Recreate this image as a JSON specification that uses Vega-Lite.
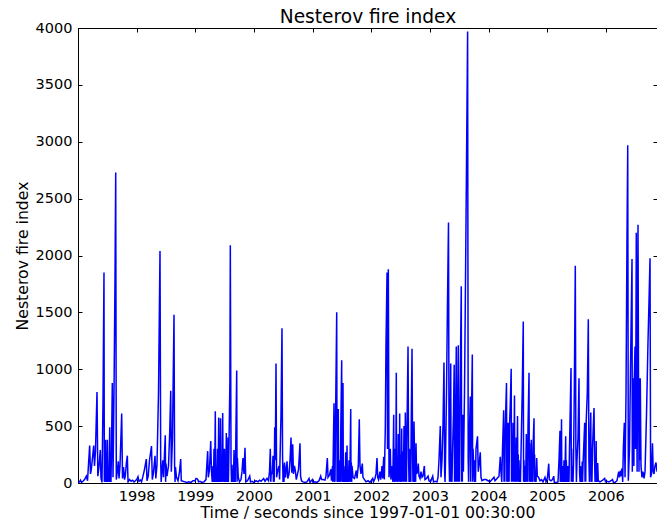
{
 "$schema": "https://vega.github.io/schema/vega-lite/v6.json",
 "width": 579, "height": 455,
 "autosize": {"type": "none"},
 "padding": {"left": 78, "top": 28, "right": 0, "bottom": 40},
 "background": "white",
 "config": {
  "font": "DejaVu Sans",
  "view": {"stroke": "black", "strokeWidth": 1},
  "axis": {"domainColor": "black", "tickColor": "black", "labelColor": "black", "titleColor": "black", "grid": false,
   "labelFont": "DejaVu Sans", "titleFont": "DejaVu Sans", "labelFontSize": 14.5, "titleFontSize": 15.7, "titleFontWeight": "normal",
   "tickSize": -4, "domainWidth": 1, "tickWidth": 1}
 },
 "data": {"values": [
{"year":1997.000,"index":0},{"year":1997.026,"index":10},{"year":1997.043,"index":25},{"year":1997.060,"index":5},{"year":1997.085,"index":15},{"year":1997.111,"index":30},{"year":1997.142,"index":60},{"year":1997.162,"index":20},{"year":1997.199,"index":330},{"year":1997.213,"index":80},{"year":1997.227,"index":120},{"year":1997.268,"index":330},{"year":1997.281,"index":150},{"year":1997.298,"index":280},{"year":1997.324,"index":800},{"year":1997.338,"index":60},{"year":1997.355,"index":130},{"year":1997.380,"index":290},{"year":1997.392,"index":40},{"year":1997.409,"index":5},{"year":1997.426,"index":700},{"year":1997.443,"index":1850},{"year":1997.449,"index":10},{"year":1997.455,"index":100},{"year":1997.462,"index":10},{"year":1997.469,"index":380},{"year":1997.476,"index":10},{"year":1997.483,"index":120},{"year":1997.491,"index":10},{"year":1997.500,"index":380},{"year":1997.508,"index":10},{"year":1997.515,"index":60},{"year":1997.528,"index":10},{"year":1997.541,"index":490},{"year":1997.548,"index":10},{"year":1997.554,"index":150},{"year":1997.562,"index":10},{"year":1997.571,"index":300},{"year":1997.585,"index":880},{"year":1997.597,"index":50},{"year":1997.614,"index":800},{"year":1997.631,"index":1800},{"year":1997.643,"index":2730},{"year":1997.653,"index":30},{"year":1997.670,"index":100},{"year":1997.687,"index":190},{"year":1997.699,"index":40},{"year":1997.716,"index":150},{"year":1997.745,"index":610},{"year":1997.759,"index":40},{"year":1997.776,"index":140},{"year":1997.793,"index":30},{"year":1997.806,"index":60},{"year":1997.824,"index":170},{"year":1997.841,"index":240},{"year":1997.853,"index":10},{"year":1997.878,"index":30},{"year":1997.904,"index":15},{"year":1997.929,"index":25},{"year":1997.955,"index":10},{"year":1997.980,"index":20},
{"year":1998.006,"index":35},{"year":1998.023,"index":55},{"year":1998.040,"index":15},{"year":1998.066,"index":25},{"year":1998.083,"index":10},{"year":1998.108,"index":60},{"year":1998.134,"index":120},{"year":1998.165,"index":210},{"year":1998.176,"index":20},{"year":1998.197,"index":60},{"year":1998.219,"index":200},{"year":1998.253,"index":325},{"year":1998.267,"index":30},{"year":1998.287,"index":90},{"year":1998.313,"index":240},{"year":1998.327,"index":40},{"year":1998.347,"index":160},{"year":1998.373,"index":800},{"year":1998.398,"index":2040},{"year":1998.410,"index":200},{"year":1998.418,"index":10},{"year":1998.427,"index":80},{"year":1998.446,"index":200},{"year":1998.458,"index":50},{"year":1998.488,"index":420},{"year":1998.494,"index":10},{"year":1998.500,"index":170},{"year":1998.517,"index":60},{"year":1998.543,"index":150},{"year":1998.564,"index":450},{"year":1998.581,"index":810},{"year":1998.591,"index":100},{"year":1998.611,"index":400},{"year":1998.637,"index":1480},{"year":1998.647,"index":160},{"year":1998.655,"index":10},{"year":1998.662,"index":140},{"year":1998.679,"index":50},{"year":1998.705,"index":20},{"year":1998.731,"index":100},{"year":1998.751,"index":210},{"year":1998.761,"index":20},{"year":1998.790,"index":15},{"year":1998.824,"index":10},{"year":1998.858,"index":5},{"year":1998.893,"index":10},{"year":1998.927,"index":5},{"year":1998.961,"index":20},{"year":1998.995,"index":20},
{"year":1999.012,"index":40},{"year":1999.038,"index":35},{"year":1999.055,"index":10},{"year":1999.080,"index":15},{"year":1999.114,"index":5},{"year":1999.148,"index":10},{"year":1999.182,"index":30},{"year":1999.211,"index":280},{"year":1999.222,"index":50},{"year":1999.242,"index":120},{"year":1999.263,"index":370},{"year":1999.276,"index":100},{"year":1999.289,"index":10},{"year":1999.302,"index":150},{"year":1999.310,"index":10},{"year":1999.319,"index":300},{"year":1999.330,"index":10},{"year":1999.341,"index":630},{"year":1999.347,"index":10},{"year":1999.353,"index":120},{"year":1999.366,"index":10},{"year":1999.379,"index":300},{"year":1999.389,"index":10},{"year":1999.399,"index":575},{"year":1999.406,"index":10},{"year":1999.413,"index":200},{"year":1999.421,"index":10},{"year":1999.430,"index":570},{"year":1999.438,"index":10},{"year":1999.447,"index":120},{"year":1999.457,"index":10},{"year":1999.467,"index":615},{"year":1999.474,"index":10},{"year":1999.481,"index":300},{"year":1999.490,"index":10},{"year":1999.498,"index":300},{"year":1999.505,"index":10},{"year":1999.512,"index":150},{"year":1999.520,"index":10},{"year":1999.529,"index":440},{"year":1999.535,"index":10},{"year":1999.541,"index":200},{"year":1999.550,"index":10},{"year":1999.558,"index":400},{"year":1999.564,"index":10},{"year":1999.570,"index":180},{"year":1999.590,"index":900},{"year":1999.597,"index":2090},{"year":1999.609,"index":190},{"year":1999.617,"index":10},{"year":1999.626,"index":160},{"year":1999.634,"index":10},{"year":1999.643,"index":110},{"year":1999.651,"index":10},{"year":1999.660,"index":290},{"year":1999.666,"index":10},{"year":1999.672,"index":100},{"year":1999.680,"index":10},{"year":1999.689,"index":300},{"year":1999.706,"index":990},{"year":1999.712,"index":10},{"year":1999.718,"index":220},{"year":1999.733,"index":50},{"year":1999.754,"index":10},{"year":1999.779,"index":30},{"year":1999.796,"index":100},{"year":1999.813,"index":220},{"year":1999.830,"index":80},{"year":1999.847,"index":310},{"year":1999.861,"index":10},{"year":1999.890,"index":20},{"year":1999.928,"index":60},{"year":1999.941,"index":10},{"year":1999.967,"index":15},
{"year":2000.001,"index":5},{"year":2000.035,"index":20},{"year":2000.069,"index":10},{"year":2000.095,"index":25},{"year":2000.120,"index":15},{"year":2000.166,"index":40},{"year":2000.188,"index":15},{"year":2000.223,"index":40},{"year":2000.248,"index":20},{"year":2000.265,"index":100},{"year":2000.279,"index":300},{"year":2000.287,"index":10},{"year":2000.296,"index":100},{"year":2000.311,"index":80},{"year":2000.325,"index":240},{"year":2000.331,"index":10},{"year":2000.337,"index":100},{"year":2000.345,"index":10},{"year":2000.354,"index":490},{"year":2000.364,"index":200},{"year":2000.376,"index":1050},{"year":2000.386,"index":50},{"year":2000.402,"index":100},{"year":2000.427,"index":150},{"year":2000.437,"index":30},{"year":2000.461,"index":600},{"year":2000.478,"index":1360},{"year":2000.488,"index":230},{"year":2000.496,"index":10},{"year":2000.504,"index":160},{"year":2000.512,"index":10},{"year":2000.521,"index":180},{"year":2000.538,"index":50},{"year":2000.564,"index":190},{"year":2000.577,"index":40},{"year":2000.598,"index":80},{"year":2000.615,"index":200},{"year":2000.632,"index":400},{"year":2000.644,"index":90},{"year":2000.661,"index":340},{"year":2000.673,"index":80},{"year":2000.691,"index":150},{"year":2000.705,"index":110},{"year":2000.722,"index":30},{"year":2000.743,"index":80},{"year":2000.760,"index":120},{"year":2000.785,"index":350},{"year":2000.795,"index":60},{"year":2000.811,"index":20},{"year":2000.836,"index":10},{"year":2000.870,"index":5},{"year":2000.905,"index":10},{"year":2000.939,"index":40},{"year":2000.956,"index":5},{"year":2000.995,"index":30},
{"year":2001.007,"index":5},{"year":2001.041,"index":10},{"year":2001.075,"index":5},{"year":2001.109,"index":20},{"year":2001.138,"index":60},{"year":2001.152,"index":30},{"year":2001.177,"index":30},{"year":2001.211,"index":25},{"year":2001.228,"index":60},{"year":2001.251,"index":220},{"year":2001.263,"index":50},{"year":2001.288,"index":70},{"year":2001.309,"index":120},{"year":2001.322,"index":20},{"year":2001.339,"index":150},{"year":2001.346,"index":10},{"year":2001.353,"index":300},{"year":2001.365,"index":700},{"year":2001.370,"index":10},{"year":2001.375,"index":200},{"year":2001.382,"index":10},{"year":2001.390,"index":500},{"year":2001.411,"index":1500},{"year":2001.417,"index":10},{"year":2001.423,"index":100},{"year":2001.430,"index":10},{"year":2001.438,"index":650},{"year":2001.444,"index":10},{"year":2001.450,"index":200},{"year":2001.458,"index":10},{"year":2001.467,"index":120},{"year":2001.474,"index":10},{"year":2001.481,"index":500},{"year":2001.496,"index":1080},{"year":2001.501,"index":10},{"year":2001.506,"index":200},{"year":2001.512,"index":10},{"year":2001.518,"index":880},{"year":2001.524,"index":10},{"year":2001.530,"index":150},{"year":2001.537,"index":10},{"year":2001.544,"index":100},{"year":2001.554,"index":10},{"year":2001.564,"index":270},{"year":2001.570,"index":10},{"year":2001.575,"index":120},{"year":2001.581,"index":10},{"year":2001.587,"index":330},{"year":2001.592,"index":10},{"year":2001.598,"index":100},{"year":2001.610,"index":10},{"year":2001.621,"index":200},{"year":2001.635,"index":10},{"year":2001.650,"index":650},{"year":2001.655,"index":10},{"year":2001.660,"index":180},{"year":2001.666,"index":10},{"year":2001.672,"index":150},{"year":2001.689,"index":50},{"year":2001.714,"index":40},{"year":2001.745,"index":110},{"year":2001.757,"index":40},{"year":2001.779,"index":150},{"year":2001.796,"index":560},{"year":2001.808,"index":150},{"year":2001.825,"index":80},{"year":2001.847,"index":170},{"year":2001.859,"index":50},{"year":2001.885,"index":30},{"year":2001.910,"index":10},{"year":2001.945,"index":20},{"year":2001.979,"index":5},
{"year":2002.025,"index":40},{"year":2002.038,"index":10},{"year":2002.064,"index":40},{"year":2002.081,"index":80},{"year":2002.098,"index":220},{"year":2002.110,"index":50},{"year":2002.124,"index":30},{"year":2002.149,"index":100},{"year":2002.161,"index":30},{"year":2002.175,"index":100},{"year":2002.183,"index":150},{"year":2002.195,"index":40},{"year":2002.212,"index":230},{"year":2002.223,"index":30},{"year":2002.240,"index":500},{"year":2002.251,"index":1200},{"year":2002.269,"index":1850},{"year":2002.277,"index":300},{"year":2002.291,"index":1880},{"year":2002.303,"index":50},{"year":2002.325,"index":300},{"year":2002.335,"index":30},{"year":2002.354,"index":150},{"year":2002.368,"index":10},{"year":2002.383,"index":600},{"year":2002.388,"index":10},{"year":2002.393,"index":200},{"year":2002.401,"index":10},{"year":2002.410,"index":300},{"year":2002.418,"index":10},{"year":2002.427,"index":970},{"year":2002.432,"index":10},{"year":2002.437,"index":230},{"year":2002.442,"index":10},{"year":2002.448,"index":200},{"year":2002.454,"index":10},{"year":2002.461,"index":430},{"year":2002.467,"index":10},{"year":2002.473,"index":250},{"year":2002.479,"index":10},{"year":2002.485,"index":610},{"year":2002.490,"index":10},{"year":2002.495,"index":250},{"year":2002.501,"index":10},{"year":2002.507,"index":200},{"year":2002.513,"index":10},{"year":2002.519,"index":480},{"year":2002.524,"index":10},{"year":2002.529,"index":250},{"year":2002.535,"index":10},{"year":2002.541,"index":280},{"year":2002.549,"index":10},{"year":2002.558,"index":500},{"year":2002.564,"index":10},{"year":2002.570,"index":300},{"year":2002.575,"index":10},{"year":2002.581,"index":620},{"year":2002.592,"index":100},{"year":2002.601,"index":10},{"year":2002.610,"index":500},{"year":2002.627,"index":1200},{"year":2002.637,"index":200},{"year":2002.644,"index":10},{"year":2002.652,"index":300},{"year":2002.660,"index":10},{"year":2002.669,"index":200},{"year":2002.675,"index":10},{"year":2002.681,"index":500},{"year":2002.695,"index":1180},{"year":2002.705,"index":250},{"year":2002.711,"index":10},{"year":2002.717,"index":200},{"year":2002.723,"index":10},{"year":2002.729,"index":540},{"year":2002.739,"index":200},{"year":2002.745,"index":10},{"year":2002.751,"index":150},{"year":2002.757,"index":10},{"year":2002.763,"index":350},{"year":2002.773,"index":80},{"year":2002.789,"index":100},{"year":2002.802,"index":170},{"year":2002.814,"index":60},{"year":2002.831,"index":40},{"year":2002.848,"index":100},{"year":2002.865,"index":50},{"year":2002.882,"index":60},{"year":2002.905,"index":150},{"year":2002.916,"index":30},{"year":2002.942,"index":40},{"year":2002.968,"index":60},{"year":2002.985,"index":20},
{"year":2003.010,"index":10},{"year":2003.048,"index":60},{"year":2003.061,"index":10},{"year":2003.087,"index":15},{"year":2003.121,"index":10},{"year":2003.138,"index":50},{"year":2003.155,"index":200},{"year":2003.177,"index":500},{"year":2003.189,"index":50},{"year":2003.206,"index":200},{"year":2003.223,"index":500},{"year":2003.240,"index":1060},{"year":2003.251,"index":100},{"year":2003.258,"index":10},{"year":2003.266,"index":200},{"year":2003.283,"index":800},{"year":2003.300,"index":1600},{"year":2003.317,"index":2290},{"year":2003.327,"index":200},{"year":2003.335,"index":10},{"year":2003.343,"index":300},{"year":2003.355,"index":1050},{"year":2003.361,"index":10},{"year":2003.367,"index":150},{"year":2003.376,"index":10},{"year":2003.385,"index":250},{"year":2003.402,"index":600},{"year":2003.414,"index":1040},{"year":2003.420,"index":10},{"year":2003.425,"index":300},{"year":2003.430,"index":10},{"year":2003.436,"index":500},{"year":2003.450,"index":1200},{"year":2003.455,"index":10},{"year":2003.460,"index":300},{"year":2003.465,"index":10},{"year":2003.471,"index":500},{"year":2003.484,"index":1210},{"year":2003.490,"index":10},{"year":2003.496,"index":400},{"year":2003.504,"index":10},{"year":2003.513,"index":700},{"year":2003.535,"index":1730},{"year":2003.541,"index":10},{"year":2003.547,"index":500},{"year":2003.553,"index":10},{"year":2003.559,"index":600},{"year":2003.571,"index":100},{"year":2003.590,"index":800},{"year":2003.610,"index":1960},{"year":2003.629,"index":3100},{"year":2003.643,"index":3970},{"year":2003.653,"index":200},{"year":2003.660,"index":10},{"year":2003.667,"index":300},{"year":2003.689,"index":760},{"year":2003.695,"index":10},{"year":2003.701,"index":300},{"year":2003.723,"index":1130},{"year":2003.729,"index":10},{"year":2003.735,"index":300},{"year":2003.752,"index":100},{"year":2003.760,"index":10},{"year":2003.769,"index":200},{"year":2003.777,"index":10},{"year":2003.786,"index":300},{"year":2003.812,"index":410},{"year":2003.824,"index":100},{"year":2003.837,"index":150},{"year":2003.859,"index":270},{"year":2003.871,"index":50},{"year":2003.888,"index":20},{"year":2003.922,"index":30},{"year":2003.957,"index":30},{"year":2003.991,"index":20},
{"year":2004.025,"index":10},{"year":2004.059,"index":30},{"year":2004.093,"index":50},{"year":2004.110,"index":20},{"year":2004.144,"index":40},{"year":2004.178,"index":60},{"year":2004.200,"index":230},{"year":2004.212,"index":100},{"year":2004.225,"index":10},{"year":2004.238,"index":300},{"year":2004.258,"index":640},{"year":2004.264,"index":10},{"year":2004.269,"index":300},{"year":2004.277,"index":10},{"year":2004.286,"index":500},{"year":2004.306,"index":880},{"year":2004.312,"index":10},{"year":2004.318,"index":200},{"year":2004.325,"index":10},{"year":2004.332,"index":530},{"year":2004.338,"index":10},{"year":2004.344,"index":250},{"year":2004.350,"index":10},{"year":2004.357,"index":500},{"year":2004.371,"index":700},{"year":2004.386,"index":1005},{"year":2004.391,"index":10},{"year":2004.396,"index":350},{"year":2004.406,"index":10},{"year":2004.417,"index":530},{"year":2004.430,"index":10},{"year":2004.442,"index":770},{"year":2004.448,"index":10},{"year":2004.454,"index":250},{"year":2004.463,"index":10},{"year":2004.473,"index":400},{"year":2004.483,"index":10},{"year":2004.494,"index":590},{"year":2004.500,"index":10},{"year":2004.507,"index":250},{"year":2004.513,"index":10},{"year":2004.519,"index":200},{"year":2004.527,"index":10},{"year":2004.536,"index":120},{"year":2004.544,"index":10},{"year":2004.553,"index":250},{"year":2004.574,"index":800},{"year":2004.592,"index":1420},{"year":2004.597,"index":10},{"year":2004.603,"index":200},{"year":2004.612,"index":10},{"year":2004.621,"index":150},{"year":2004.632,"index":10},{"year":2004.644,"index":430},{"year":2004.650,"index":10},{"year":2004.656,"index":250},{"year":2004.664,"index":10},{"year":2004.673,"index":500},{"year":2004.690,"index":970},{"year":2004.695,"index":10},{"year":2004.700,"index":350},{"year":2004.707,"index":10},{"year":2004.715,"index":250},{"year":2004.722,"index":10},{"year":2004.729,"index":380},{"year":2004.735,"index":10},{"year":2004.741,"index":200},{"year":2004.749,"index":10},{"year":2004.758,"index":300},{"year":2004.775,"index":570},{"year":2004.780,"index":10},{"year":2004.785,"index":250},{"year":2004.792,"index":10},{"year":2004.800,"index":100},{"year":2004.810,"index":10},{"year":2004.821,"index":220},{"year":2004.831,"index":60},{"year":2004.852,"index":50},{"year":2004.877,"index":20},{"year":2004.903,"index":30},{"year":2004.928,"index":10},{"year":2004.962,"index":50},{"year":2004.980,"index":10},
{"year":2005.005,"index":50},{"year":2005.026,"index":170},{"year":2005.036,"index":30},{"year":2005.065,"index":20},{"year":2005.090,"index":30},{"year":2005.111,"index":60},{"year":2005.121,"index":5},{"year":2005.150,"index":5},{"year":2005.184,"index":10},{"year":2005.201,"index":200},{"year":2005.218,"index":460},{"year":2005.223,"index":10},{"year":2005.228,"index":150},{"year":2005.236,"index":10},{"year":2005.244,"index":560},{"year":2005.249,"index":10},{"year":2005.254,"index":100},{"year":2005.262,"index":10},{"year":2005.269,"index":150},{"year":2005.277,"index":10},{"year":2005.286,"index":200},{"year":2005.300,"index":10},{"year":2005.315,"index":410},{"year":2005.320,"index":10},{"year":2005.326,"index":200},{"year":2005.334,"index":10},{"year":2005.343,"index":150},{"year":2005.353,"index":10},{"year":2005.363,"index":150},{"year":2005.371,"index":10},{"year":2005.380,"index":300},{"year":2005.406,"index":1010},{"year":2005.411,"index":10},{"year":2005.416,"index":300},{"year":2005.423,"index":10},{"year":2005.431,"index":150},{"year":2005.440,"index":10},{"year":2005.448,"index":160},{"year":2005.462,"index":800},{"year":2005.479,"index":1910},{"year":2005.489,"index":300},{"year":2005.498,"index":10},{"year":2005.508,"index":200},{"year":2005.525,"index":400},{"year":2005.542,"index":920},{"year":2005.552,"index":100},{"year":2005.560,"index":10},{"year":2005.568,"index":150},{"year":2005.576,"index":10},{"year":2005.585,"index":100},{"year":2005.591,"index":10},{"year":2005.597,"index":190},{"year":2005.603,"index":10},{"year":2005.610,"index":150},{"year":2005.639,"index":530},{"year":2005.645,"index":10},{"year":2005.650,"index":300},{"year":2005.657,"index":10},{"year":2005.665,"index":540},{"year":2005.684,"index":800},{"year":2005.701,"index":1440},{"year":2005.711,"index":200},{"year":2005.720,"index":10},{"year":2005.730,"index":300},{"year":2005.743,"index":620},{"year":2005.749,"index":10},{"year":2005.754,"index":200},{"year":2005.763,"index":10},{"year":2005.772,"index":300},{"year":2005.798,"index":660},{"year":2005.808,"index":200},{"year":2005.816,"index":10},{"year":2005.824,"index":150},{"year":2005.830,"index":10},{"year":2005.835,"index":370},{"year":2005.840,"index":10},{"year":2005.846,"index":150},{"year":2005.853,"index":10},{"year":2005.861,"index":175},{"year":2005.871,"index":20},{"year":2005.900,"index":10},{"year":2005.934,"index":20},{"year":2005.980,"index":40},{"year":2005.994,"index":10},
{"year":2006.020,"index":15},{"year":2006.054,"index":10},{"year":2006.088,"index":20},{"year":2006.113,"index":30},{"year":2006.130,"index":5},{"year":2006.156,"index":5},{"year":2006.190,"index":20},{"year":2006.219,"index":100},{"year":2006.233,"index":50},{"year":2006.250,"index":110},{"year":2006.262,"index":60},{"year":2006.275,"index":130},{"year":2006.287,"index":10},{"year":2006.298,"index":300},{"year":2006.315,"index":530},{"year":2006.327,"index":50},{"year":2006.344,"index":800},{"year":2006.361,"index":2200},{"year":2006.373,"index":2970},{"year":2006.383,"index":20},{"year":2006.403,"index":300},{"year":2006.420,"index":1000},{"year":2006.446,"index":1970},{"year":2006.451,"index":100},{"year":2006.456,"index":920},{"year":2006.463,"index":200},{"year":2006.471,"index":920},{"year":2006.478,"index":150},{"year":2006.485,"index":920},{"year":2006.497,"index":1200},{"year":2006.506,"index":300},{"year":2006.519,"index":2200},{"year":2006.526,"index":920},{"year":2006.533,"index":100},{"year":2006.539,"index":920},{"year":2006.548,"index":2270},{"year":2006.557,"index":920},{"year":2006.565,"index":100},{"year":2006.574,"index":920},{"year":2006.582,"index":200},{"year":2006.587,"index":920},{"year":2006.599,"index":150},{"year":2006.616,"index":50},{"year":2006.633,"index":100},{"year":2006.651,"index":40},{"year":2006.668,"index":100},{"year":2006.693,"index":600},{"year":2006.719,"index":1250},{"year":2006.736,"index":1600},{"year":2006.753,"index":1975},{"year":2006.763,"index":50},{"year":2006.778,"index":80},{"year":2006.795,"index":350},{"year":2006.807,"index":100},{"year":2006.821,"index":80},{"year":2006.838,"index":150},{"year":2006.855,"index":180},{"year":2006.872,"index":100}
 ]},
 "layer": [
  {
   "mark": {"type": "line", "color": "#0000ff", "strokeWidth": 1.5, "clip": true},
   "encoding": {
    "x": {"field": "year", "type": "quantitative",
     "scale": {"domain": [1997, 2006.872], "nice": false, "zero": false},
     "axis": {"orient": "bottom", "values": [1998, 1999, 2000, 2001, 2002, 2003, 2004, 2005, 2006], "format": "d",
      "title": "Time / seconds since 1997-01-01 00:30:00", "labelPadding": 10, "labelFlush": false,
      "titleY": 34, "titleBaseline": "alphabetic"}},
    "y": {"field": "index", "type": "quantitative",
     "scale": {"domain": [0, 4000], "nice": false},
     "axis": {"orient": "left", "values": [0, 500, 1000, 1500, 2000, 2500, 3000, 3500, 4000], "format": "d",
      "title": "Nesterov fire index", "labelPadding": 10,
      "titleX": -51, "titleY": 227.5, "titleAngle": -90, "titleBaseline": "alphabetic", "titleAlign": "center"}}
   }
  },
  {
   "mark": {"type": "line", "opacity": 0},
   "encoding": {
    "x": {"field": "year", "type": "quantitative",
     "axis": {"orient": "top", "values": [1998, 1999, 2000, 2001, 2002, 2003, 2004, 2005, 2006], "labels": false,
      "title": "Nesterov fire index", "titleFontSize": 18.6, "titleX": 289.5, "titleY": -6, "titleAlign": "center", "titleBaseline": "alphabetic"}},
    "y": {"field": "index", "type": "quantitative",
     "axis": {"orient": "right", "values": [0, 500, 1000, 1500, 2000, 2500, 3000, 3500, 4000], "labels": false, "title": null}}
   }
  }
 ],
 "resolve": {"axis": {"x": "independent", "y": "independent"}}
}
